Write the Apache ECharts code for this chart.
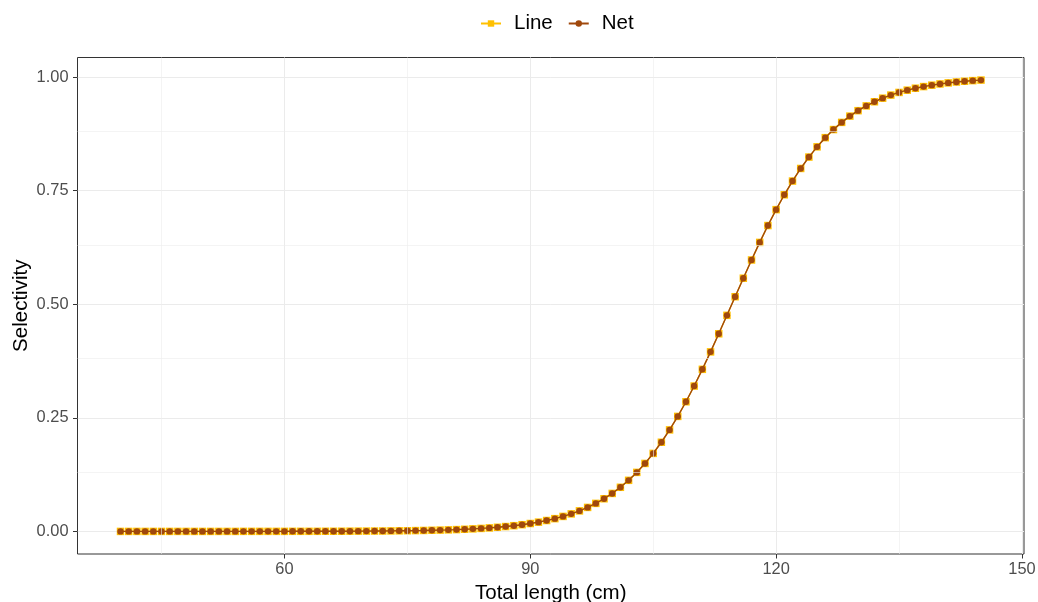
<!DOCTYPE html>
<html>
<head>
<meta charset="utf-8">
<script src="https://cdn.jsdelivr.net/npm/echarts@6/dist/echarts.min.js"></script>
<style>
html,body{margin:0;padding:0;background:#fff;}
#chart{width:1038px;height:602px;}
</style>
</head>
<body>
<div id="chart"></div>
<script>
const lengths = [40,41,42,43,44,45,46,47,48,49,50,51,52,53,54,55,56,57,58,59,60,61,62,63,64,65,66,67,68,69,70,71,72,73,74,75,76,77,78,79,80,81,82,83,84,85,86,87,88,89,90,91,92,93,94,95,96,97,98,99,100,101,102,103,104,105,106,107,108,109,110,111,112,113,114,115,116,117,118,119,120,121,122,123,124,125,126,127,128,129,130,131,132,133,134,135,136,137,138,139,140,141,142,143,144,145];

const lineValues = [0,0,0,0,0,0,0,0,0,0,0,0,0,0,0,0.0001,0.0001,0.0001,0.0001,0.0001,0.0001,0.0002,0.0002,0.0002,0.0002,0.0003,0.0003,0.0004,0.0005,0.0006,0.0007,0.0008,0.0009,0.0011,0.0013,0.0015,0.0018,0.0021,0.0025,0.0029,0.0034,0.0040,0.0047,0.0056,0.0066,0.0077,0.0091,0.0107,0.0126,0.0148,0.0174,0.0204,0.0240,0.0281,0.0330,0.0386,0.0452,0.0528,0.0617,0.0719,0.0836,0.0971,0.1124,0.1299,0.1496,0.1717,0.1962,0.2234,0.2531,0.2853,0.3199,0.3567,0.3951,0.4349,0.4755,0.5165,0.5572,0.5973,0.6360,0.6731,0.7081,0.7408,0.7710,0.7987,0.8238,0.8463,0.8665,0.8843,0.9001,0.9139,0.9259,0.9364,0.9455,0.9534,0.9602,0.9660,0.9710,0.9753,0.9789,0.9820,0.9847,0.9870,0.9890,0.9906,0.9920,0.9932];

const netValues = [0,0,0,0,0,0,0,0,0,0,0,0,0,0,0,0.0001,0.0001,0.0001,0.0001,0.0001,0.0001,0.0002,0.0002,0.0002,0.0002,0.0003,0.0003,0.0004,0.0005,0.0006,0.0007,0.0008,0.0009,0.0011,0.0013,0.0015,0.0018,0.0021,0.0025,0.0029,0.0034,0.0040,0.0047,0.0056,0.0066,0.0077,0.0091,0.0107,0.0126,0.0148,0.0174,0.0204,0.0240,0.0281,0.0330,0.0386,0.0452,0.0528,0.0617,0.0719,0.0836,0.0971,0.1124,0.1299,0.1496,0.1717,0.1962,0.2234,0.2531,0.2853,0.3199,0.3567,0.3951,0.4349,0.4755,0.5165,0.5572,0.5973,0.6360,0.6731,0.7081,0.7408,0.7710,0.7987,0.8238,0.8463,0.8665,0.8843,0.9001,0.9139,0.9259,0.9364,0.9455,0.9534,0.9602,0.9660,0.9710,0.9753,0.9789,0.9820,0.9847,0.9870,0.9890,0.9906,0.9920,0.9932];

const xTicks = [60, 90, 120, 150];
const xMinor = [45, 75, 105, 135];
const yTicks = [0, 0.25, 0.5, 0.75, 1];
const yMinor = [0.125, 0.375, 0.625, 0.875];
const xRange = [34.75, 150.25];
const yRange = [-0.0497, 1.0429];

const FONT = '"Liberation Sans", Arial, Helvetica, sans-serif';
const lineColor = '#FFC000';
const netColor = '#A0480C';

const chart = echarts.init(document.getElementById('chart'), null, {renderer: 'canvas'});

const minorMarks = xMinor.map(v => ({xAxis: v})).concat(yMinor.map(v => ({yAxis: v})));

chart.setOption({
  animation: false,
  backgroundColor: '#ffffff',
  textStyle: {fontFamily: FONT},
  legend: {
    data: ['Line', 'Net'],
    top: 8,
    left: 475,
    itemWidth: 20,
    itemHeight: 8,
    itemGap: 15,
    textStyle: {fontSize: 20.5, color: '#000', fontFamily: FONT, padding: [0, 0, 0, 8]},
  },
  grid: {
    left: 77.5, right: 14, top: 57.5, bottom: 48,
    outerBoundsMode: 'none',
    containLabel: false,
    show: true, borderColor: '#333333', borderWidth: 1, backgroundColor: 'transparent'
  },
  xAxis: {
    type: 'value',
    min: xRange[0], max: xRange[1],
    name: 'Total length (cm)',
    nameLocation: 'middle',
    nameGap: 29,
    nameMoveOverlap: false,
    nameTextStyle: {fontSize: 20.5, color: '#000', fontFamily: FONT},
    axisLine: {show: false, onZero: false},
    axisTick: {show: true, customValues: xTicks, length: 4.5, lineStyle: {color: '#333333', width: 1}},
    axisLabel: {customValues: xTicks, fontSize: 16.4, color: '#4d4d4d', margin: 7.5, fontFamily: FONT},
    splitLine: {show: true, lineStyle: {color: '#ebebeb', width: 1}},
  },
  yAxis: {
    type: 'value',
    min: yRange[0], max: yRange[1],
    name: 'Selectivity',
    nameLocation: 'middle',
    nameGap: 46,
    nameMoveOverlap: false,
    nameTextStyle: {fontSize: 20.5, color: '#000', fontFamily: FONT},
    axisLine: {show: false, onZero: false},
    axisTick: {show: true, customValues: yTicks, length: 4.5, lineStyle: {color: '#333333', width: 1}},
    axisLabel: {customValues: yTicks, fontSize: 16.4, color: '#4d4d4d', margin: 9, fontFamily: FONT,
      formatter: v => v.toFixed(2)},
    splitLine: {show: true, lineStyle: {color: '#ebebeb', width: 1}},
  },
  series: [
    {
      type: 'line',
      data: [],
      z: 1,
      silent: true,
      markLine: {
        silent: true,
        symbol: ['none', 'none'],
        label: {show: false},
        lineStyle: {color: '#ededed', width: 0.6, type: 'solid'},
        emphasis: {disabled: true},
        data: minorMarks
      }
    },
    {
      name: 'Line',
      type: 'line',
      data: lengths.map((x, i) => [x, lineValues[i]]),
      symbol: 'rect',
      symbolSize: 7.5,
      showAllSymbol: true,
      itemStyle: {color: lineColor},
      lineStyle: {color: lineColor, width: 1.4},
      z: 3
    },
    {
      name: 'Net',
      type: 'line',
      data: lengths.map((x, i) => [x, netValues[i]]),
      symbol: 'circle',
      symbolSize: 6.4,
      showAllSymbol: true,
      itemStyle: {color: netColor},
      lineStyle: {color: netColor, width: 1.4},
      z: 4
    }
  ]
});
</script>
</body>
</html>
